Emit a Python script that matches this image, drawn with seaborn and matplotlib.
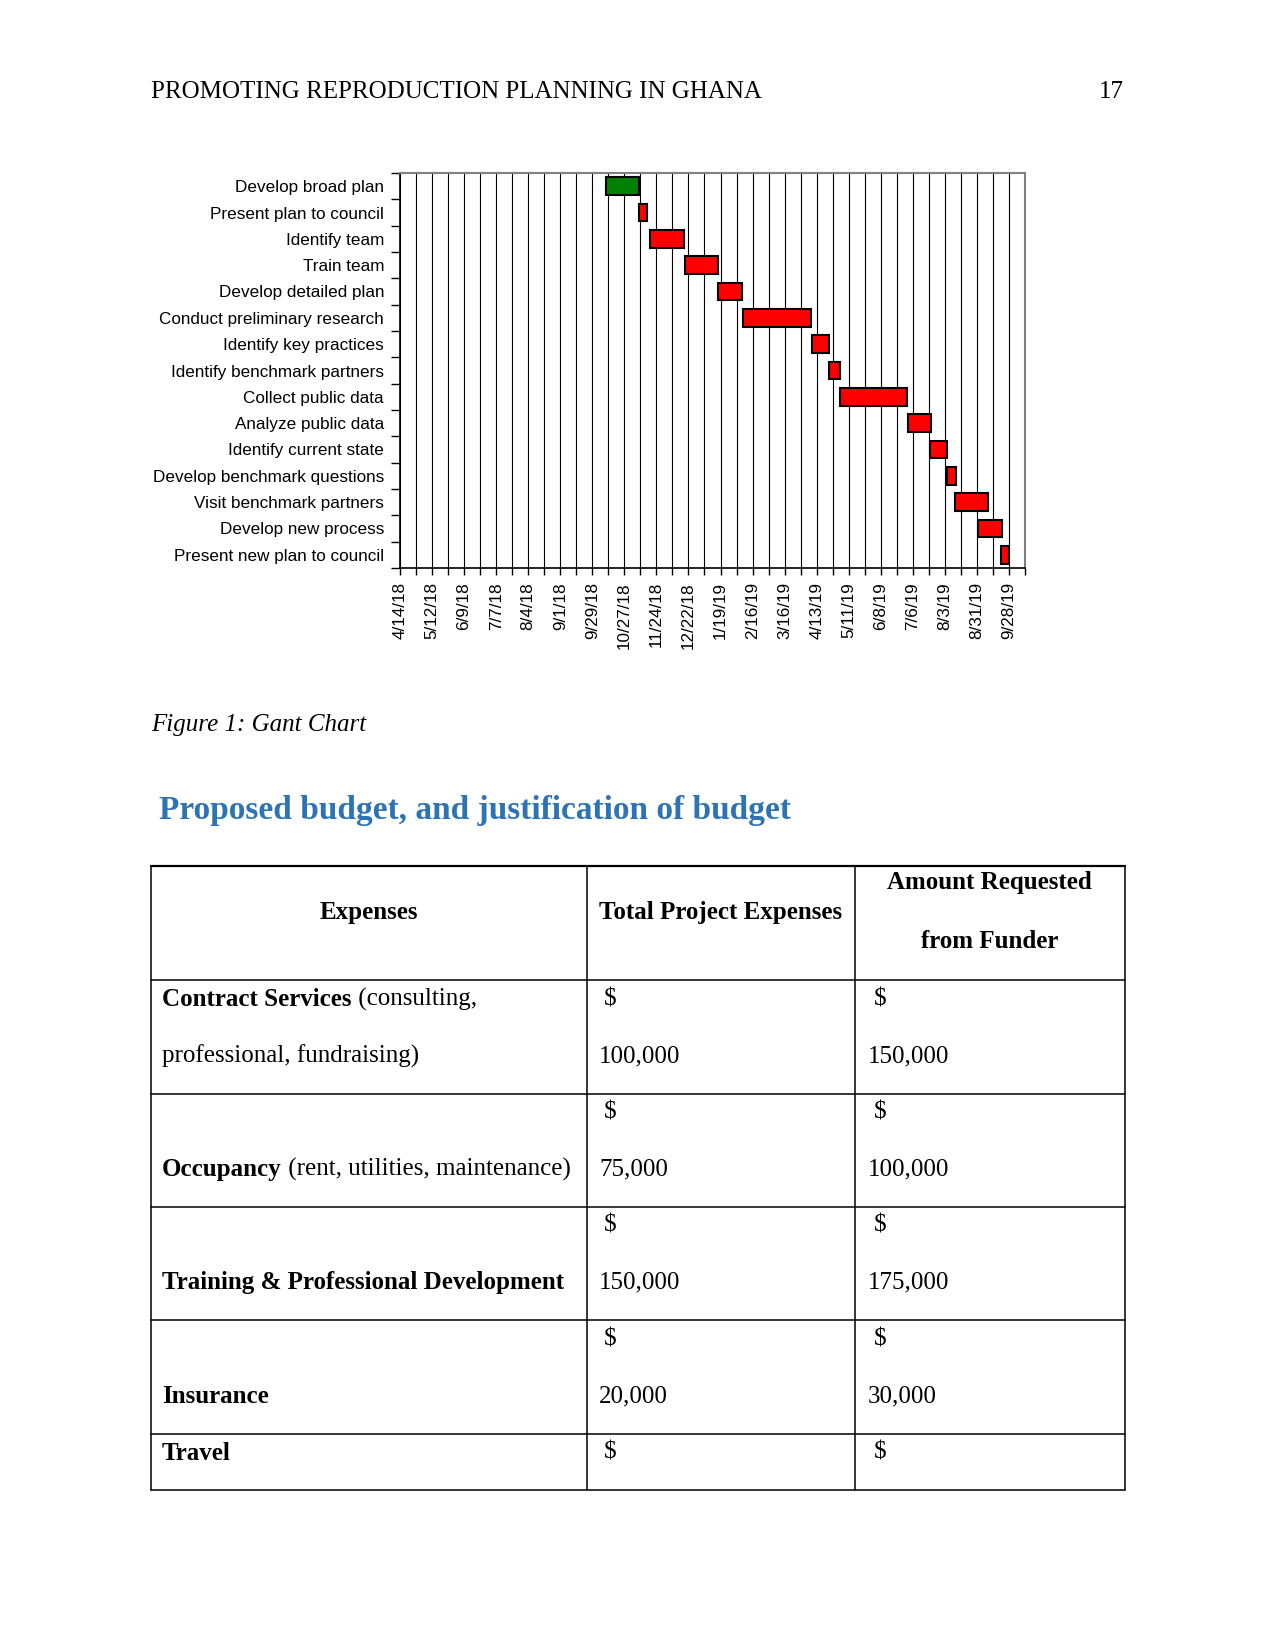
import matplotlib
matplotlib.use("Agg")
import numpy as np
import pandas as pd
import seaborn as sns
import matplotlib.pyplot as plt
import matplotlib.dates as mdates


# gantt data
tasks = ["Develop broad plan", "Present plan to council", "Identify team", "Train team",
         "Develop detailed plan", "Conduct preliminary research", "Identify key practices",
         "Identify benchmark partners", "Collect public data", "Analyze public data",
         "Identify current state", "Develop benchmark questions", "Visit benchmark partners",
         "Develop new process", "Present new plan to council"]
starts = ["2018-10-11", "2018-11-09", "2018-11-18", "2018-12-19", "2019-01-17",
          "2019-02-08", "2019-04-09", "2019-04-24", "2019-05-03", "2019-07-02",
          "2019-07-21", "2019-08-05", "2019-08-12", "2019-09-01", "2019-09-21"]
durations = [29, 7, 30, 29, 21, 59, 15, 9, 59, 20, 15, 8, 29, 21, 7]
bar_colors = ["#008000"] + ["#FF0000"] * 14
axis_start = "2018-04-14"
axis_end = "2019-10-12"

# budget table
expense_bold = ["Contract Services", "Occupancy", "Training & Professional Development",
                "Insurance", "Travel"]
expense_rest = [" (consulting,", " (rent, utilities, maintenance)", "", "", ""]
expense_line2 = ["professional, fundraising)", "", "", "", ""]
total_expenses = ["100,000", "75,000", "150,000", "20,000", ""]
amount_requested = ["150,000", "100,000", "175,000", "30,000", ""]

sns.set_style("white")
plt.rcParams["font.family"] = ["Liberation Serif", "DejaVu Serif"]
plt.rcParams["text.color"] = "black"
plt.rcParams["xtick.color"] = "black"
plt.rcParams["ytick.color"] = "black"

fig = plt.figure(figsize=(12.75, 16.51), dpi=100)

# page layer, in pixel coords
page = fig.add_axes([0, 0, 1, 1])
page.set_xlim(0, 1275)
page.set_ylim(1651, 0)
page.axis("off")

BODY = 18
page.text(151, 92, "PROMOTING REPRODUCTION PLANNING IN GHANA", fontsize=BODY, va="center")
page.text(1124, 92, "17", fontsize=BODY, va="center", ha="right")
page.text(151, 725, "Figure 1: Gant Chart", fontsize=BODY, style="italic", va="center")
page.text(159, 811, "Proposed budget, and justification of budget", fontsize=24,
          weight="bold", color="#2E74B5", va="center")

# ---- gantt ----
ax = fig.add_axes([400 / 1275, 1 - 568 / 1651, 625 / 1275, 395 / 1651])
df = pd.DataFrame({"task": tasks, "start": pd.to_datetime(starts), "days": durations})
sns.barplot(data=df, x="days", y="task", hue="task", palette=bar_colors, legend=False,
            orient="h", width=0.67, edgecolor="black", linewidth=1.5, saturation=1, ax=ax)
start_num = mdates.date2num(df["start"].dt.to_pydatetime())
for p in ax.patches:
    i = int(round(p.get_y() + p.get_height() / 2))
    p.set_x(start_num[i])
    p.set_width(durations[i])

x0 = mdates.date2num(pd.Timestamp(axis_start).to_pydatetime())
x1 = mdates.date2num(pd.Timestamp(axis_end).to_pydatetime())
ax.set_xlim(x0, x1)
ax.set_ylim(len(tasks) - 0.5, -0.5)
major = pd.date_range(axis_start, "2019-09-28", freq="28D")
minor = pd.date_range(axis_start, axis_end, freq="14D")
ax.set_xticks(mdates.date2num(major.to_pydatetime()))
ax.set_xticklabels([f"{d.month}/{d.day}/{d.year % 100}" for d in major], rotation=90,
                   family=["Liberation Sans"], fontsize=12.3)
ax.set_xticks(mdates.date2num(minor.to_pydatetime()), minor=True)
ax.set_yticks(np.arange(len(tasks)))
ax.set_yticklabels(tasks, family=["Liberation Sans"], fontsize=12.3)
ax.set_yticks(np.arange(-0.5, len(tasks)), minor=True)
ax.tick_params(axis="y", which="major", length=0, pad=11.5)
ax.tick_params(axis="y", which="minor", length=6.5, width=1, color="black", left=True)
ax.tick_params(axis="x", which="both", length=5, width=1, color="black", pad=5, bottom=True)
ax.grid(True, axis="x", which="both", color="black", linewidth=0.8)
ax.set_axisbelow(True)
ax.set_xlabel("")
ax.set_ylabel("")
for side in ["left", "bottom"]:
    ax.spines[side].set_color("black")
    ax.spines[side].set_linewidth(1.2)
for side in ["top", "right"]:
    ax.spines[side].set_color("#808080")
    ax.spines[side].set_linewidth(1.5)

# ---- table ----
xs = [150.6, 586.5, 855, 1124.5]
ys = [866.5, 980.2, 1093.9, 1206.6, 1320.3, 1434.0, 1489.8]
for y in ys:
    lw = 1.6 if y == ys[0] else 1.1
    page.plot([xs[0], xs[-1]], [y, y], color="black", lw=lw)
for x in xs:
    page.plot([x, x], [ys[0], ys[-1]], color="black", lw=1.1)

page.text((xs[0] + xs[1]) / 2, 913, "Expenses", fontsize=BODY, weight="bold", ha="center", va="center")
page.text((xs[1] + xs[2]) / 2, 913, "Total Project Expenses", fontsize=BODY, weight="bold",
          ha="center", va="center")
page.text((xs[2] + xs[3]) / 2, 883, "Amount Requested", fontsize=BODY, weight="bold",
          ha="center", va="center")
page.text((xs[2] + xs[3]) / 2, 941, "from Funder", fontsize=BODY, weight="bold",
          ha="center", va="center")

renderer = fig.canvas.get_renderer()
for i in range(len(expense_bold)):
    top = ys[i + 1]
    l1 = top + 19
    l2 = top + 76
    name_y = l2
    if expense_line2[i] or i == len(expense_bold) - 1:
        name_y = l1
    t = page.text(162, name_y, expense_bold[i], fontsize=BODY, weight="bold", va="center")
    if expense_rest[i]:
        bb = t.get_window_extent(renderer=renderer)
        page.text(bb.x1, name_y, expense_rest[i], fontsize=BODY, va="center")
    if expense_line2[i]:
        page.text(162, l2, expense_line2[i], fontsize=BODY, va="center")
    page.text(604, l1, "$", fontsize=BODY, va="center")
    page.text(874, l1, "$", fontsize=BODY, va="center")
    if total_expenses[i]:
        page.text(599, l2, total_expenses[i], fontsize=BODY, va="center")
    if amount_requested[i]:
        page.text(868, l2, amount_requested[i], fontsize=BODY, va="center")

fig.savefig("out.png", dpi=100)
